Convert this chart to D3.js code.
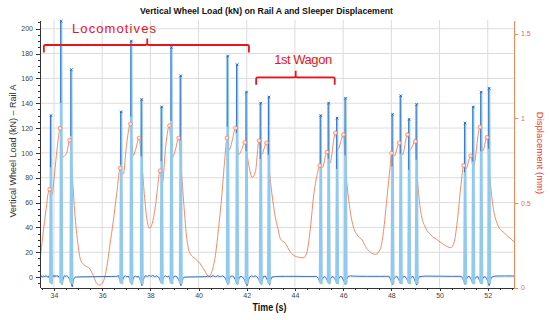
<!DOCTYPE html>
<html>
<head>
<meta charset="utf-8">
<title>Vertical Wheel Load and Sleeper Displacement</title>
<style>
body { margin: 0; background: #fff; }
svg { font-family: "Liberation Sans", Arial, sans-serif; }
.grid line { stroke: #dcdcdc; stroke-width: 1; }
.axis text { font-size: 7px; fill: #444; }
.axis path, .axis line { stroke: #333; shape-rendering: crispEdges; }
.raxis path, .raxis line { stroke: #f2875c; }
.raxis text { fill: #d9704a; }
</style>
</head>
<body>
<div id="chart"></div>
<script src="https://d3js.org/d3.v7.min.js"></script>
<script>
// tick values
var timeTicks = [34, 36, 38, 40, 42, 44, 46, 48, 50, 52];
var loadTicks = [0, 20, 40, 60, 80, 100, 120, 140, 160, 180, 200];
var dispTicks = [0, 0.5, 1, 1.5];

// wheel load peaks, one per axle: [time s, kN]
var loadPeaks = [
  [33.875,130],[34.30,206],[34.72,167],
  [36.79,133],[37.21,190],[37.64,143],
  [38.47,137],[38.875,185],[39.26,162],
  [41.21,178],[41.60,171],[41.99,149],
  [42.58,140],[42.92,145],
  [45.07,130],[45.40,140],[45.75,128],[46.10,144],
  [48.05,131],[48.39,146],[48.74,127],[49.05,139],
  [51.06,124],[51.40,137],[51.73,149],[52.06,152]
];

// wheel load trace between the axle peaks (baseline + dips): [time s, kN]
var loadBase = [
  [33.42,0.5],[33.47,1.2],[33.52,-0.2],[33.57,1.0],[33.62,0.2],[33.67,1.3],[33.72,0.0],[33.77,0.8],
  [33.82,-1.5],[33.86,-4],[33.9,-3.5],[33.93,-1.2],[33.96,0.3],[34.0,1.5],[34.04,0.2],[34.08,1.4],
  [34.12,0.5],[34.16,1.2],[34.2,0.0],[34.25,-1.0],[34.29,-3],[34.33,-6],[34.37,-2.5],[34.41,0.2],
  [34.45,1.3],[34.49,0.4],[34.53,1.2],[34.57,0.3],[34.62,-0.8],[34.67,-2.5],[34.71,-5],[34.76,-8],
  [34.8,-3],[34.84,-0.8],[34.9,0],[35.2,0.2],[35.6,0.3],[36.0,0.4],[36.4,0.5],[36.6,0.6],[36.68,1.2],
  [36.72,-1.5],[36.77,-3.5],[36.82,-5.0],[36.86,-2],[36.9,0.3],[36.96,1.0],[37.02,0.2],[37.08,0.8],
  [37.13,-1],[37.18,-3.5],[37.23,-6],[37.28,-2],[37.32,0.2],[37.38,0.8],[37.44,0.1],[37.5,0.6],
  [37.55,-1],[37.6,-3],[37.65,-7],[37.7,-2.5],[37.75,0],[37.8,1.2],[37.88,0.4],[37.95,1.5],
  [38.02,0.5],[38.1,1.3],[38.18,0.3],[38.26,1.0],[38.33,0.2],[38.38,-1.5],[38.43,-4],[38.48,-5],
  [38.52,-1.5],[38.57,0.5],[38.63,1],[38.7,0.2],[38.77,0.8],[38.82,-2.5],[38.87,-5.5],[38.92,-2],
  [38.97,0.3],[39.03,0.8],[39.1,0.2],[39.17,-2],[39.22,-4.5],[39.27,-7],[39.32,-3],[39.37,-0.5],
  [39.45,0],[40.0,0.2],[40.3,0.3],[40.4,1.0],[40.5,0.1],[40.6,1.2],[40.7,0.2],[40.8,1.1],[40.9,0.3],
  [41.0,1.0],[41.07,0],[41.12,-1.5],[41.17,-3.5],[41.22,-6],[41.27,-2],[41.32,0.5],[41.4,0.9],
  [41.47,0],[41.52,-2],[41.56,-4],[41.61,-6],[41.66,-2],[41.72,0.3],[41.8,0.5],[41.87,-1],
  [41.92,-3],[41.97,-5.5],[42.02,-7],[42.07,-2.5],[42.12,0],[42.2,1],[42.28,0.3],[42.35,1],
  [42.42,0.5],[42.5,-2],[42.55,-4.5],[42.6,-6],[42.65,-2],[42.7,0.5],[42.78,0.8],[42.84,-2],
  [42.9,-4],[42.95,-6.5],[43.0,-2],[43.05,0],[43.2,0.5],[43.6,0.6],[44.0,0.6],[44.5,0.5],[44.9,0.5],
  [44.97,-1],[45.02,-3.5],[45.07,-5],[45.11,-2.5],[45.16,-1],[45.22,0.5],[45.28,-0.5],[45.33,-2.5],
  [45.38,-4.5],[45.43,-5.5],[45.47,-2],[45.52,0],[45.58,0.5],[45.64,-1],[45.7,-3],[45.75,-5.5],
  [45.8,-2],[45.86,0.2],[45.93,0.4],[45.99,-1.5],[46.04,-3.5],[46.09,-6],[46.14,-2],[46.2,0.5],
  [46.3,1.0],[46.5,0.7],[47.0,0.6],[47.5,0.6],[47.9,0.6],[47.95,-1],[48.0,-3.5],[48.05,-6],
  [48.1,-2],[48.16,0],[48.22,0.8],[48.28,-1],[48.33,-3],[48.38,-5.5],[48.43,-2],[48.5,0.3],
  [48.56,0.6],[48.62,-1],[48.68,-3],[48.73,-5],[48.78,-2],[48.84,0.2],[48.9,0.5],[48.95,-1.5],
  [49.0,-4],[49.05,-6.5],[49.1,-2],[49.16,0.3],[49.4,0.8],[50.0,0.7],[50.5,0.6],[50.9,0.6],
  [50.96,-1],[51.01,-3.5],[51.06,-6],[51.11,-2],[51.17,0.3],[51.24,0.5],[51.3,-1.5],[51.35,-3.5],
  [51.4,-5.5],[51.45,-2],[51.52,0],[51.58,0.6],[51.63,-1.5],[51.68,-3.5],[51.73,-5.5],[51.78,-2],
  [51.84,0.2],[51.9,0.3],[51.96,-1.5],[52.01,-4],[52.06,-7],[52.11,-2.5],[52.17,0],[52.3,0.8],
  [52.7,0.9],[53.09,0.9]
];

// sleeper displacement: [time s, mm]
var disp = [
  [33.42,0.16],[33.54,0.31],[33.68,0.47],[33.75,0.55],[33.82,0.58],[33.87,0.56],[33.93,0.55],
  [34.0,0.64],[34.1,0.78],[34.18,0.88],[34.25,0.94],[34.3,0.86],[34.37,0.77],[34.45,0.78],
  [34.54,0.80],[34.65,0.87],[34.72,0.75],[34.79,0.60],[34.86,0.45],[35.0,0.25],[35.11,0.16],
  [35.28,0.13],[35.49,0.11],[35.63,0.07],[35.76,0.027],[35.9,0.014],[36.04,0.033],[36.18,0.11],
  [36.32,0.25],[36.46,0.39],[36.6,0.55],[36.75,0.705],[36.81,0.67],[36.875,0.67],[37.01,0.84],
  [37.17,0.966],[37.23,0.86],[37.29,0.78],[37.4,0.82],[37.53,0.883],[37.64,0.745],[37.75,0.55],
  [37.85,0.41],[37.96,0.35],[38.08,0.38],[38.2,0.47],[38.3,0.59],[38.4,0.69],[38.45,0.64],
  [38.5,0.62],[38.64,0.84],[38.79,0.956],[38.85,0.85],[38.92,0.77],[39.05,0.82],[39.17,0.883],
  [39.28,0.705],[39.39,0.49],[39.51,0.29],[39.65,0.20],[39.86,0.17],[40.07,0.14],[40.28,0.093],
  [40.42,0.063],[40.55,0.093],[40.70,0.19],[40.83,0.35],[40.97,0.55],[41.08,0.745],[41.18,0.883],
  [41.28,0.814],[41.4,0.87],[41.53,0.942],[41.6,0.85],[41.67,0.784],[41.8,0.82],[41.92,0.857],
  [42.08,0.725],[42.22,0.65],[42.36,0.685],[42.51,0.867],[42.61,0.784],[42.82,0.854],[42.93,0.70],
  [43.05,0.547],[43.18,0.42],[43.29,0.35],[43.39,0.29],[43.6,0.261],[43.8,0.211],[44.08,0.181],
  [44.36,0.176],[44.5,0.211],[44.64,0.35],[44.78,0.547],[44.92,0.666],[45.03,0.721],[45.125,0.705],
  [45.33,0.80],[45.45,0.735],[45.68,0.913],[45.78,0.814],[46.01,0.903],[46.1,0.705],[46.24,0.507],
  [46.42,0.359],[46.58,0.31],[46.79,0.28],[46.97,0.231],[47.14,0.207],[47.35,0.196],[47.55,0.231],
  [47.69,0.35],[47.83,0.547],[47.95,0.715],[48.01,0.794],[48.11,0.774],[48.33,0.854],[48.46,0.784],
  [48.67,0.903],[48.78,0.814],[48.99,0.863],[49.08,0.646],[49.22,0.448],[49.43,0.35],[49.64,0.31],
  [49.92,0.28],[50.2,0.251],[50.47,0.235],[50.61,0.27],[50.75,0.409],[50.89,0.606],[51.0,0.721],
  [51.1,0.701],[51.29,0.778],[51.4,0.709],[51.68,0.948],[51.79,0.804],[51.97,0.887],[52.07,0.685],
  [52.21,0.488],[52.42,0.369],[52.7,0.32],[52.97,0.286],[53.09,0.27]
];

// displacement peaks marked with circles
var dispMarks = [
  [33.82,0.58],[34.25,0.94],[34.65,0.87],[36.75,0.705],[37.17,0.966],[37.53,0.883],
  [38.4,0.69],[38.79,0.956],[39.17,0.883],[41.18,0.883],[41.53,0.942],[41.92,0.857],
  [42.51,0.867],[42.82,0.854],[45.03,0.721],[45.33,0.80],[45.68,0.913],[46.01,0.903],
  [48.01,0.794],[48.33,0.854],[48.67,0.903],[48.99,0.863],[51.0,0.721],[51.29,0.778],
  [51.68,0.948],[51.97,0.887]
];

// bracket annotations (times in s)
var groups = [
  {label: "Locomotives", from: 33.58, to: 42.09, notch: 37.87, labelAt: 36.49},
  {label: "1st Wagon", from: 42.39, to: 45.65, notch: 44.03, labelAt: 44.34}
];

var width = 550, height = 320;
var plotL = 40, plotR = 514, plotT = 20, plotB = 287.5;

var svg = d3.select("#chart").append("svg")
    .attr("width", width)
    .attr("height", height);

var x = d3.scaleLinear().domain([33.42, 53.09]).range([plotL, plotR]);
var yLoad = d3.scaleLinear().domain([-8.4, 207]).range([plotB, plotT]);
var yDisp = d3.scaleLinear().domain([0, 1.58]).range([plotB, plotT]);

// grid
var grid = svg.append("g").attr("class", "grid");
grid.selectAll(".v").data(timeTicks).enter().append("line")
    .attr("x1", function(d) { return x(d); }).attr("x2", function(d) { return x(d); })
    .attr("y1", plotT).attr("y2", plotB);
grid.selectAll(".h").data(loadTicks).enter().append("line")
    .attr("x1", plotL).attr("x2", plotR)
    .attr("y1", function(d) { return yLoad(d); }).attr("y2", function(d) { return yLoad(d); });

// displacement line (under the load spikes)
var dispLine = d3.line()
    .x(function(d) { return x(d[0]); })
    .y(function(d) { return yDisp(d[1]); })
    .curve(d3.curveMonotoneX);
svg.append("path").datum(disp)
    .attr("d", dispLine)
    .attr("fill", "none")
    .attr("stroke", "#f07e55")
    .attr("stroke-width", 0.9);

// load baseline
var loadLine = d3.line()
    .x(function(d) { return x(d[0]); })
    .y(function(d) { return yLoad(d[1]); });
svg.append("path").datum(loadBase)
    .attr("d", loadLine)
    .attr("fill", "none")
    .attr("stroke", "#2c74cc")
    .attr("stroke-width", 1);

// load spikes
var spikes = svg.append("g");
spikes.selectAll(".band").data(loadPeaks).enter().append("path")
    .attr("d", function(d) {
      return "M" + x(d[0] - 0.035) + "," + yLoad(-4) +
             "L" + x(d[0]) + "," + yLoad(d[1]) +
             "L" + x(d[0] + 0.04) + "," + yLoad(-5) + "Z";
    })
    .attr("fill", "#92c9ee")
    .attr("stroke", "#92c9ee")
    .attr("stroke-width", 2.2)
    .attr("stroke-linejoin", "round");
spikes.selectAll(".edge").data(loadPeaks).enter().append("line")
    .attr("x1", function(d) { return x(d[0]) - 0.5; })
    .attr("x2", function(d) { return x(d[0]) - 0.5; })
    .attr("y1", function(d) { return yLoad(d[1]); })
    .attr("y2", function(d) { return yLoad(d[1] * 0.68); })
    .attr("stroke", "#2a6cc4")
    .attr("stroke-width", 0.9);

// peak markers
spikes.selectAll(".mk").data(loadPeaks).enter().append("path")
    .attr("d", function(d) {
      var cx = x(d[0]), cy = yLoad(d[1]), s = 1.3;
      return "M" + (cx - s) + "," + (cy - s) + "L" + (cx + s) + "," + (cy + s) +
             "M" + (cx - s) + "," + (cy + s) + "L" + (cx + s) + "," + (cy - s);
    })
    .attr("stroke", "#1d5aae")
    .attr("stroke-width", 0.8);

svg.append("g").selectAll("circle").data(dispMarks).enter().append("circle")
    .attr("cx", function(d) { return x(d[0]); })
    .attr("cy", function(d) { return yDisp(d[1]); })
    .attr("r", 1.9)
    .attr("fill", "#fde4da")
    .attr("stroke", "#ec7a52")
    .attr("stroke-width", 0.7);

// axes
svg.append("g").attr("class", "axis")
    .attr("transform", "translate(0," + plotB + ")")
    .call(d3.axisBottom(x).tickValues(d3.range(33.5, 53.01, 0.5)).tickSize(2).tickSizeOuter(0).tickFormat(""));
svg.append("g").attr("class", "axis")
    .attr("transform", "translate(0," + plotB + ")")
    .call(d3.axisBottom(x).tickValues(timeTicks).tickSize(3).tickSizeOuter(0).tickPadding(3));

svg.append("g").attr("class", "axis")
    .attr("transform", "translate(" + plotL + ",0)")
    .call(d3.axisLeft(yLoad).tickValues(d3.range(-5, 206, 5)).tickSize(2).tickSizeOuter(0).tickFormat(""));
svg.append("g").attr("class", "axis")
    .attr("transform", "translate(" + plotL + ",0)")
    .call(d3.axisLeft(yLoad).tickValues(loadTicks).tickSize(4).tickSizeOuter(0).tickPadding(3));

svg.append("g").attr("class", "axis raxis")
    .attr("transform", "translate(" + plotR + ",0)")
    .call(d3.axisRight(yDisp).tickValues(dispTicks).tickSize(4).tickSizeOuter(0).tickPadding(3)
      .tickFormat(function(d) { return String(d); }));

// titles
svg.append("text")
    .attr("x", 266.5).attr("y", 13.5)
    .attr("text-anchor", "middle")
    .attr("textLength", 253).attr("lengthAdjust", "spacingAndGlyphs")
    .style("font-size", "9px").style("font-weight", "bold").style("fill", "#111")
    .text("Vertical Wheel Load (kN) on Rail A and Sleeper Displacement");

svg.append("text")
    .attr("x", 269.5).attr("y", 311)
    .attr("text-anchor", "middle")
    .attr("textLength", 34).attr("lengthAdjust", "spacingAndGlyphs")
    .style("font-size", "11px").style("font-weight", "bold").style("fill", "#111")
    .text("Time (s)");

svg.append("text")
    .attr("transform", "translate(15.5,151) rotate(-90)")
    .attr("text-anchor", "middle")
    .style("font-size", "9px").style("fill", "#333")
    .text("Vertical Wheel Load (kN) \u2013 Rail A");

svg.append("text")
    .attr("transform", "translate(536.5,153) rotate(90)")
    .attr("text-anchor", "middle")
    .style("font-size", "9.5px").style("fill", "#e8392c")
    .text("Displacement (mm)");

// bracket annotations
var bracketY = [45, 77.3], labelY = [33.3, 64], labelLen = [84, 58];
groups.forEach(function(g, i) {
  var by = bracketY[i];
  var x0 = x(g.from), x1 = x(g.to), xn = x(g.notch);
  svg.append("path")
      .attr("d", "M" + x0 + "," + (by + 7.5) + "L" + x0 + "," + (by + 1.5) + "Q" + x0 + "," + by + " " + (x0 + 1.5) + "," + by +
                 "L" + (xn - 1.5) + "," + by + "Q" + xn + "," + by + " " + xn + "," + (by - 1.5) +
                 "L" + xn + "," + (by - 6.5) + "M" + xn + "," + (by - 1.5) + "Q" + xn + "," + by + " " + (xn + 1.5) + "," + by +
                 "L" + (x1 - 1.5) + "," + by + "Q" + x1 + "," + by + " " + x1 + "," + (by + 1.5) + "L" + x1 + "," + (by + 7.5))
      .attr("fill", "none")
      .attr("stroke", "#e8151c")
      .attr("stroke-width", 1.8);
  svg.append("text")
      .attr("x", x(g.labelAt)).attr("y", labelY[i])
      .attr("text-anchor", "middle")
      .attr("textLength", labelLen[i]).attr("lengthAdjust", "spacing")
      .style("font-size", "13px").style("fill", "#e8151c")
      .text(g.label);
});
</script>
</body>
</html>
